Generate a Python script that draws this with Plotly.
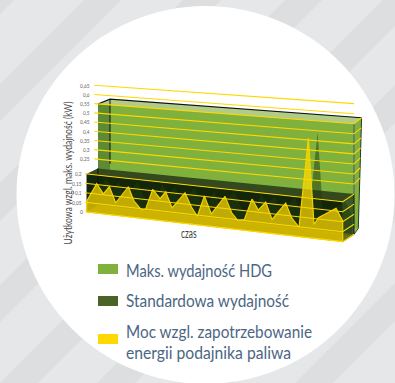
import json
import plotly.graph_objects as go

# --- data ---------------------------------------------------------------
czas = [0, 30, 50, 68, 87, 125, 142, 165, 177, 198, 220, 237, 256, 295, 315, 332, 353,
        374, 415, 435, 453, 473, 496, 515, 537, 556, 597, 615, 637, 665, 682, 695, 748, 768]
moc = [0.057, 0.155, 0.105, 0.147, 0.066, 0.157, 0.085, 0.043, 0.052, 0.157, 0.113, 0.151,
       0.073, 0.158, 0.085, 0.044, 0.153, 0.064, 0.162, 0.082, 0.047, 0.055, 0.163, 0.111,
       0.155, 0.071, 0.162, 0.09, 0.047, 0.50, 0.07, 0.106, 0.163, 0.104]
maks_hdg = [0.55, 0.55]
standard = [0.2, 0.2]
ticks_hi = [0.65, 0.6, 0.55, 0.5, 0.45, 0.4, 0.35, 0.3, 0.25]
ticks_lo = [0.2, 0.15, 0.1, 0.05, 0.0]
legend_lines = ["Maks. wydajność HDG", "Standardowa wydajność",
                "Moc wzgl. zapotrzebowanie", "energii podajnika paliwa"]
y_title = "Użytkowa wzgl. maks. wydajność (kW)"
x_title = "czas"

T = czas[-1]
GREEN, GREEN_SIDE, GREEN_TOP, GREEN_RIGHT = "#80b13d", "#5d8b35", "#b0cc88", "#9cbf62"
DARK, DARK_TOP, DARK_SIDE = "#13260a", "#34491e", "#3c5825"
YELLOW = "#ffd800"
FACE = "rgba(255,219,0,0.72)"
FLOOR = "rgba(200,170,0,0.3)"
FONT = "Lato, Noto Sans, sans-serif"


def project(t, d, v):
    """Oblique projection of (time, depth layer, value) onto the page."""
    u = t / T
    x = 86.7 + 256 * u
    y = 212 + 29.7 * u
    if d <= 1:
        x += 11.3 * d
        y -= (6.7 + 0.7 * u) * d
        scale = (190 + 10 * u) * (1 - d) + (184.3 + 16.7 * u) * d
    else:
        k = d - 1
        x += 11.3 + k * (12 * (1 - u) + u * (4.3 + 6 * v))
        y -= 6.7 + 0.7 * u + k * (4.7 + 1.3 * u)
        scale = 184.3 + 16.7 * u
    return x, y - scale * v


fig = go.Figure()


def poly(points, fill=None, line=None, width=1.0):
    xs, ys = zip(*points)
    fig.add_trace(go.Scatter(
        x=list(xs), y=list(ys), mode="lines",
        fill="toself" if fill else None, fillcolor=fill,
        line=dict(color=line or "rgba(0,0,0,0)", width=width if line else 0),
        hoverinfo="skip", showlegend=False))


def face(a, b, fill, line=None, width=1.0):
    """Quad between two pairs of (t, d, v) corners."""
    poly([project(*p) for p in a + b[::-1]] + [project(*a[0])], fill, line, width)


# upper box (maximum output)
h = maks_hdg[0]
face([(T, 2, h), (T, 2, 0)], [(T, 1, h), (T, 1, 0)], GREEN_RIGHT)
face([(0, 2, h), (T, 2, h)], [(0, 2, 0), (T, 2, 0)], GREEN)
face([(0, 1, h), (0, 2, h)], [(0, 1, 0), (0, 2, 0)], GREEN_SIDE)
face([(0, 1, h), (T, 1, h)], [(0, 2, h), (T, 2, h)], GREEN_TOP)
poly([project(T, 1, h), project(T, 1, standard[0])], None, "#56686a", 1.2)
poly([project(T, 2, h), project(T, 2, 0), project(T, 1, 0)], None, "#2b3a2a", 1)
poly([project(0, 1, h), project(0, 2, h), project(T, 2, h)], None, "#111111", 1.2)
poly([project(0, 2, h), project(0, 2, standard[0])], None, "#111111", 1)

# lower box (standard output)
s = standard[0]
face([(0, 0, s), (0, 1, s)], [(0, 0, 0), (0, 1, 0)], DARK_SIDE)
face([(T, 0, s), (T, 1, s)], [(T, 0, 0), (T, 1, 0)], DARK_SIDE)
face([(0, 0, s), (T, 0, s)], [(0, 0, 0), (T, 0, 0)], DARK)
face([(0, 0, s), (T, 0, s)], [(0, 1, s), (T, 1, s)], DARK_TOP)
poly([project(0, 1, s), project(0, 1, 0)], None, "#111111", 1)
poly([project(T, 1, s), project(T, 1, 0), project(T, 0, 0)], None, "#0c1a06", 1)

# rear outline of the power curve, seen through the wall
rear = [project(t, 0.82, v) for t, v in zip(czas, moc)]
poly([project(0, 0.82, 0)] + rear + [project(T, 0.82, 0), project(0, 0.82, 0)],
     "rgba(31,58,16,0.5)")

# floor and front of the power curve
face([(0, 0, 0), (T, 0, 0)], [(0, 1, 0), (T, 1, 0)], FLOOR)
front = [project(t, 0, v) for t, v in zip(czas, moc)]
poly([project(0, 0, 0)] + front + [project(T, 0, 0), project(0, 0, 0)], FACE, "#f2d200", 1.2)

# value lines running along the boxes and around their corners
for v in ticks_hi:
    pts = [project(-11, 1, v), project(T, 1, v)]
    if v <= h:
        pts.append(project(T, 2, v))
    poly(pts, None, YELLOW, 1.1)
for v in ticks_lo:
    poly([project(-5, 0, v), project(T, 0, v), project(T, 1, v)], None, YELLOW, 1.1)

annotations = []
text_widths = []  # condensed run length of each annotation, in px


def label(x, y, text, size, color, width, anchor="center", **kw):
    annotations.append(dict(x=x, y=y, xref="x", yref="y", text=text, showarrow=False,
                            font=dict(family=FONT, size=size, color=color),
                            xanchor=anchor, yanchor="middle", align="left", **kw))
    text_widths.append(width)


for v in ticks_hi:
    px, py = project(-18, 1, v)
    tick = f"{v:g}".replace(".", ",")
    label(px + 2, py, tick, 6, "#5f6062", 9.5 if len(tick) > 3 else 6.5, "right")
for v in ticks_lo:
    px, py = project(-8, 0, v)
    tick = f"{v:g}".replace(".", ",")
    label(px + 2, py, tick, 6, "#5f6062", 9.5 if len(tick) > 3 else (6.5 if len(tick) > 1 else 3), "right")

label(67, 152.5, y_title, 11, "#4a4a4a", 143, textangle=-90)
label(192.5, 233, x_title, 12.5, "#3f3f3f", 15.5)

# legend
swatches = [GREEN, "#4a6327", YELLOW]
rows = [269, 301, 339]
shapes = []
for colour, y in zip(swatches, rows):
    shapes.append(dict(type="rect", xref="x", yref="y", x0=98, x1=118, y0=y - 5, y1=y + 5,
                       fillcolor=colour, line_width=0, layer="above"))
legend_rows = [270, 300, 331, 352]
legend_widths = [146, 163, 186, 165]
for text, y, w in zip(legend_lines, legend_rows, legend_widths):
    label(123.5, y, text, 17, "#4b6683", w, "left")

# page background: diagonal bands and the white disc
bands = [(-15, 14), (84, 121), (183, 221), (285, 322), (383, 421), (480, 518), (579, 617), (678, 716)]
background = [dict(type="path", xref="x", yref="y", layer="below", line_width=0, fillcolor="#dddee0",
                   path=f"M {a} 0 L {b} 0 L {b - 400} 400 L {a - 400} 400 Z") for a, b in bands]
background.append(dict(type="circle", xref="x", yref="y", layer="below", line_width=0,
                       fillcolor="#ffffff", x0=205.5 - 189, x1=205.5 + 189, y0=195 - 189, y1=195 + 189))

fig.update_layout(
    width=395, height=383, margin=dict(l=0, r=0, t=0, b=0),
    paper_bgcolor="#e6e7e9", plot_bgcolor="rgba(0,0,0,0)",
    xaxis=dict(range=[0, 395], visible=False, fixedrange=True),
    yaxis=dict(range=[383, 0], visible=False, fixedrange=True),
    annotations=annotations, shapes=background + shapes,
)

# the installed fonts have no condensed cut, so squeeze each text run to its length
condense = """
var widths = %s;
var texts = document.querySelectorAll('.annotation-text');
texts.forEach(function (el, i) {
    el.setAttribute('lengthAdjust', 'spacingAndGlyphs');
    el.setAttribute('textLength', widths[i]);
});
""" % json.dumps(text_widths)
fig.write_html("out.html", config=dict(displayModeBar=False), post_script=condense)
